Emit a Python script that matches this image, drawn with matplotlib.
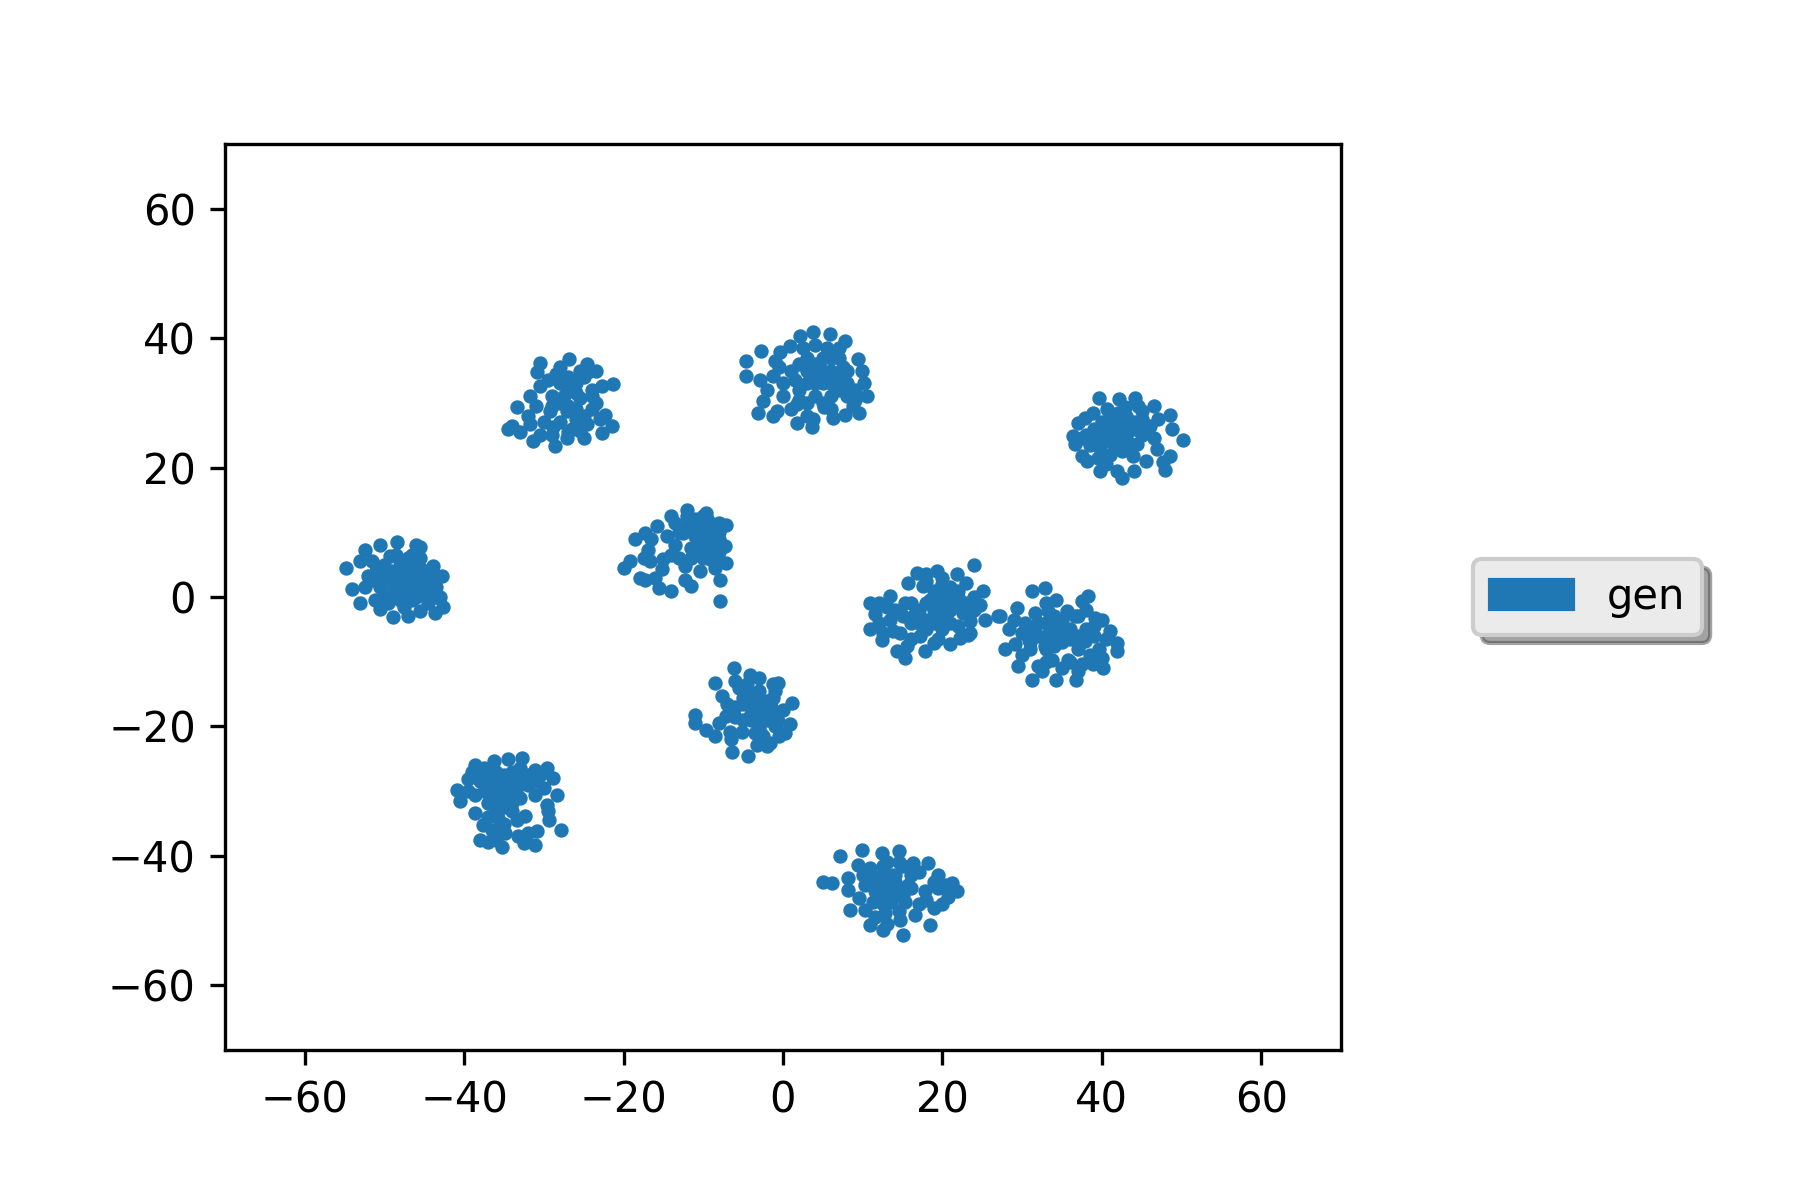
import matplotlib
matplotlib.use("Agg")
import matplotlib.pyplot as plt
import matplotlib.patches as mpatches
import numpy as np

# embedded points per cluster (x, y)
cluster_a = [(-54.8,4.5),(-53.1,5.5),(-52.4,7.2),(-50.6,8.0),(-48.4,8.5),(-46.0,8.1),(-45.6,7.8),
             (-54.1,1.2),(-53.1,-0.9),(-51.2,-0.4),(-50.6,-1.9),(-48.9,-3.1),(-47.0,-2.9),(-45.5,-2.2),
             (-43.7,-2.5),(-42.6,-1.5),(-43.2,-0.1),(-42.8,3.2),(-43.9,4.8),(-45.5,6.1),(-49.3,6.3),
             (-50,3),(-49,4),(-48,3),(-47,2),(-46,3),(-45,2),(-44,1),(-47,5),(-46,4.5),(-48,1),
             (-49,0.5),(-46,0),(-45,0.5),(-44,3),(-47,0.5),(-48.5,2),(-51,2.5),(-50,5),(-52,3.2),
             (-44.5,-1),(-47.5,-1.5),(-49.5,-1),(-46.5,6.5),(-48,5.5),(-45.5,4.5),(-43.5,1.5),
             (-50.5,1.5),(-51.5,5.5),(-49,2),(-48,4),(-47,3),(-46,2),(-45,3.5),(-44,2),(-47,6),
             (-48.5,6.5),(-50,0),(-46.5,-0.5),(-45,1),(-44,4.5),(-48,-0.5),(-49.5,3),(-51,4),
             (-52.5,1.5),(-46,5.5),(-43,0)]
cluster_b = [(-30.5,36.2),(-30.9,34.7),(-26.9,36.7),(-24.6,36.0),(-24.2,34.9),(-28.0,35.5),(-21.3,32.9),
             (-22.7,32.6),(-30.5,32.6),(-31.7,31.1),(-33.4,29.3),(-34.0,26.4),(-31.7,26.7),(-31.3,24.1),
             (-28.6,23.3),(-27.1,24.6),(-25.5,25.7),(-24.6,26.7),(-23.4,30.0),(-22.3,28.2),(-22.7,25.4),
             (-26.1,31.8),(-25.5,30.8),(-29.2,28.7),(-27.1,28.7),(-28.8,26.2),(-28,33),(-27,34),(-26,33),
             (-29,31),(-27.5,31),(-26,29),(-25,28),(-28,27),(-30,27),(-26.5,26),(-24,32),(-29.5,33.5),
             (-32,28),(-30.5,25),(-25,34),(-23.5,35),(-34.5,26),(-33,25.5),(-21.5,26.5),(-27,32),
             (-26,31.5),(-28,30),(-27,29.5),(-29,29.5),(-26,27.5),(-24,29),(-25.5,35),(-28.5,34.5),
             (-31,29.5),(-29,25),(-27,25.5),(-25,24.5),(-23,27.5),(-24,31)]
cluster_c = [(-4.6,36.5),(-2.7,38.0),(-4.6,34.2),(-2.9,33.6),(-2.5,30.3),(-3.1,28.5),(-0.8,28.7),
             (-1.2,28.0),(1.7,26.9),(3.6,26.2),(3.8,27.5),(6.3,27.7),(7.8,28.2),(8.8,29.5),(10.5,31.1),
             (10.1,33.1),(9.9,34.9),(9.4,36.7),(7.8,39.6),(5.9,40.6),(3.8,40.9),(2.1,40.3),(0.9,38.8),
             (-0.4,37.8),(-1.2,34.2),(1.7,29.8),(5.1,29.3),(2,36),(3,35),(4,34),(5,33),(6,35),(7,34),
             (8,33),(6,31),(4,31),(2,32),(0,33),(1,35),(3,37),(5,37),(7,37),(8,31),(9,32),(4,33),(6,33),
             (3,30),(0,31),(1.5,33.5),(5.5,38.5),(7.5,35.5),(-0.5,35.5),(2.5,38.5),(3,33),(5,35),(4,36),
             (6,37),(7,32),(8,35),(9,30.5),(5,30),(2,30.5),(1,29),(6,29),(-2,32),(-1,36.5),(4,39),
             (7,38.5),(9.5,28.5),(3,28)]
cluster_d = [(39.6,30.8),(42.1,30.6),(44.2,30.8),(46.5,29.5),(48.6,28.2),(48.8,25.9),(50.2,24.2),
             (48.6,21.8),(47.7,20.8),(47.9,19.7),(46.9,22.8),(46.5,24.6),(43.9,21.8),(42.5,18.4),
             (41.9,19.5),(39.8,19.5),(38.1,21.0),(37.5,21.8),(36.6,23.6),(36.4,24.9),(37.0,26.9),
             (37.9,27.7),(38.9,28.5),(40.6,29.0),(42.9,29.3),(45.0,28.7),(45.2,26.2),(41.0,25.1),
             (43.1,24.1),(39.8,23.1),(44.4,23.6),(40,27),(41,28),(42,27),(43,26),(44,27),(39,26),
             (38,25),(40,24),(42,25),(41,22),(43,28),(45,25),(39.5,21.5),(44.5,29.5),(38.5,23.5),
             (42.5,22.5),(40,26),(41,26.5),(42,28.5),(43,25),(44,26),(45,27.5),(41.5,23.5),(43,23),
             (46,26.5),(47,27.5),(39,24.5),(37.5,24.5),(40.5,20.5),(45.5,21),(44,19.5)]
cluster_e = [(-18.6,8.9),(-17.3,9.9),(-15.8,11.0),(-14.0,12.5),(-12.1,13.5),(-9.6,13.0),(-7.1,11.2),
             (-7.3,7.9),(-7.1,5.3),(-7.9,2.7),(-7.9,-0.6),(-10.4,4.0),(-11.5,1.7),(-12.3,2.7),
             (-14.0,0.9),(-15.6,1.4),(-17.3,2.7),(-20.0,4.5),(-19.2,5.5),(-16.9,7.3),(-16.7,5.5),
             (-15.2,4.3),(-15.0,5.8),(-13.1,6.1),(-12.3,4.8),(-10.8,7.6),(-12.5,9.9),(-10.4,9.9),
             (-9.2,11.5),(-8.7,7.9),(-9.2,5.8),(-11,11),(-10,10),(-9,9),(-8,9),(-9,7),(-10,8),(-11,12),
             (-8,10),(-9.5,12),(-12,11),(-13,10),(-8.5,4.5),(-10,6),(-11.5,7.5),(-13.5,8),(-14.5,9.5),
             (-18,3),(-16,3),(-10.5,11),(-9,10.5),(-8,11.5),(-12,12.5),(-11,9.5),(-9.5,8),(-8,7),
             (-8,5.5),(-10,12.5),(-13.5,11.5),(-11.5,6),(-14,6.5),(-17.5,6),(-16.5,9)]
cluster_f = [(10.9,-0.9),(13.4,0.1),(15.3,-0.9),(15.7,2.2),(16.8,3.7),(18.0,3.5),(19.3,4.0),(21.8,3.5),
             (23.0,2.2),(23.9,5.0),(25.1,0.9),(24.7,-1.2),(25.3,-3.5),(27.0,-3.0),(23.5,-3.7),(23.2,-5.8),
             (22.2,-6.3),(21.0,-7.3),(18.9,-7.1),(17.8,-8.4),(15.3,-9.4),(14.3,-8.4),(14.7,-5.5),
             (12.4,-6.6),(10.9,-5.0),(11.5,-2.7),(13.4,-3.5),(13.8,-5.3),(17.2,-6.1),(18.0,-3.5),
             (18.4,-0.4),(19.9,-3.0),(20.5,0.6),(21.8,-0.9),(22.6,-2.4),(16.6,-2.7),(17.6,1.7),(19,0),
             (20,-1),(21,-2),(22,0),(20,2),(19,-2),(17,-4),(16,-1),(18,-5),(20,-5),(14,-2),(12,-4),
             (23,-1),(21,1.5),(24,-2),(16,-6.5),(19.5,-6.5),(19,1),(20,0),(21,-0.5),(22,1),(18,-1),
             (17,-2),(19,-4),(21,-4),(22,-4.5),(16,-4),(15,-3),(13,-1.5),(12,-1),(20,3),(18,2.5),(24,0),
             (15.5,-7.5),(12.5,-5.5),(23.5,-5.5)]
cluster_g = [(27.2,-3.0),(29.3,-1.7),(31.2,0.9),(32.9,1.4),(34.3,-0.4),(37.5,-0.6),(38.3,0.1),
             (39.1,-3.2),(40.0,-3.5),(41.0,-5.3),(41.9,-7.1),(41.9,-8.4),(40.2,-11.0),(38.9,-10.4),
             (37.5,-10.4),(36.8,-12.8),(34.3,-12.8),(31.2,-12.8),(29.5,-10.7),(27.9,-8.1),(28.3,-5.0),
             (30.4,-4.0),(31.6,-2.4),(33.3,-2.2),(35.6,-2.2),(36.6,-3.0),(34.5,-6.1),(32.9,-7.6),
             (35.8,-9.7),(32.0,-10.7),(33.7,-9.7),(37.9,-6.8),(39.6,-8.1),(30.8,-6.6),(29.1,-7.3),
             (31,-5),(32,-6),(33,-4),(34,-5),(35,-7),(36,-5),(37,-8),(38,-5),(33,-8),(31,-8),(36,-10),
             (39,-6),(30,-9),(34,-3),(32.5,-11.5),(38.5,-9),(40.5,-6.5),(32,-4),(33,-6),(35,-5),
             (36,-6.5),(37,-6),(34,-7.5),(35,-3.5),(37,-3),(38,-2),(39,-4.5),(31,-7),(30,-5.5),(33,-10),
             (35,-11),(37,-11.5),(40,-9.5),(29,-3.5),(33,-1)]
cluster_h = [(-6.2,-11.0),(-4.1,-12.0),(-8.5,-13.3),(-6.0,-13.0),(-7.7,-15.3),(-1.2,-13.5),(-0.6,-13.3),
             (1.1,-16.4),(0.9,-19.7),(0.3,-21.0),(-1.6,-22.6),(-3.3,-22.8),(-4.4,-24.6),(-6.4,-23.9),
             (-6.6,-20.8),(-8.5,-21.5),(-9.6,-20.5),(-11.0,-18.2),(-11.0,-19.5),(-7.1,-18.4),(-5.2,-20.8),
             (-2.9,-20.8),(-2.0,-18.2),(-3.3,-16.1),(-5.0,-15.6),(-1.2,-15.6),(-4.1,-18.4),(-0.6,-19.2),
             (-4,-17),(-3,-18),(-2,-17),(-1,-18),(-3,-20),(-5,-19),(-2,-16),(-4,-15),(-6,-17),(-1,-20),
             (-3,-14.5),(-5.5,-14),(-2.5,-21.5),(0,-17.5),(-7,-16.5),(-3,-16.5),(-4,-19),(-2,-19),
             (-3.5,-21),(-1.5,-17),(-5,-16.5),(-6,-18.5),(-4.5,-13.5),(-3,-12.5),(-1,-14.5),
             (-0.5,-21.5),(-2,-23),(-8,-19.5),(-6.5,-22)]
cluster_i = [(-38.6,-25.9),(-36.3,-25.4),(-34.5,-25.1),(-32.8,-24.9),(-31.1,-26.7),(-29.6,-26.4),
             (-28.8,-28.0),(-28.4,-30.6),(-29.6,-32.1),(-29.4,-34.4),(-27.8,-36.0),(-30.9,-36.2),
             (-31.1,-38.3),(-33.2,-37.0),(-33.4,-34.4),(-32.4,-33.9),(-35.3,-38.6),(-37.0,-37.8),
             (-38.0,-37.5),(-37.6,-35.2),(-38.6,-33.4),(-40.5,-31.6),(-40.9,-29.8),(-39.5,-28.2),
             (-37.4,-27.7),(-35.3,-28.5),(-33.2,-29.0),(-31.1,-30.6),(-35.3,-31.1),(-37.0,-31.8),
             (-34.0,-31.8),(-35.7,-34.2),(-34.9,-36.5),(-38.6,-30.6),(-36,-27),(-35,-29),(-34,-27),
             (-33,-28),(-36,-30),(-37,-29),(-34,-30),(-32,-29),(-36,-33),(-35,-32.5),(-33,-31),
             (-31,-28.5),(-37.5,-26.5),(-39,-27),(-36.5,-36),(-32,-36.5),(-30,-29.5),(-35,-27.5),
             (-34,-28.5),(-36,-28.5),(-33,-26.5),(-35.5,-30.5),(-37.5,-30),(-33.5,-30),(-36.5,-31.5),
             (-38,-28.5),(-39.5,-30),(-35,-35),(-34,-33),(-37,-34),(-32,-27.5),(-30.5,-27.5),
             (-29.5,-33),(-32.5,-38),(-36,-37.5)]
cluster_j = [(9.9,-39.1),(9.4,-41.4),(8.2,-43.4),(8.2,-45.3),(8.4,-48.3),(10.3,-48.3),(10.9,-50.7),
             (12.6,-51.4),(15.1,-52.2),(14.7,-49.9),(16.6,-49.1),(18.4,-50.7),(18.9,-48.1),(18.0,-46.8),
             (17.8,-45.5),(20.7,-46.3),(21.8,-45.5),(21.2,-44.2),(19.5,-42.9),(18.2,-41.1),(16.3,-41.1),
             (14.5,-39.3),(12.4,-39.6),(10.9,-41.9),(10.3,-44.5),(12.0,-46.0),(13.6,-47.1),(14.1,-42.9),
             (12.4,-42.9),(15.7,-44.5),(15.3,-47.1),(12.8,-48.9),(11.3,-47.1),(5.0,-44.0),(6.2,-44.2),
             (7.1,-40.0),(12,-44),(13,-45),(14,-44),(13,-41),(14,-46),(12.5,-47.5),(11,-43),(15,-41.5),
             (16,-43),(13.5,-43),(11.5,-45.5),(19.5,-45),(20,-47.5),(12,-45),(13,-43.5),(14,-45),
             (13,-46.5),(12.5,-41.5),(14.5,-41),(11.5,-44),(15,-46),(16,-45),(14.5,-48.5),(11.5,-49.5),
             (13,-50.5),(9.5,-46.5),(17,-47.5),(19,-44),(20.5,-44.5),(17,-42.5),(10,-43)]

clusters = [cluster_a, cluster_b, cluster_c, cluster_d, cluster_e,
            cluster_f, cluster_g, cluster_h, cluster_i, cluster_j]
pts = np.array([p for c in clusters for p in c])

fig = plt.figure(figsize=(6, 4), dpi=300)
ax = fig.add_axes([0.125, 0.125, 0.62, 0.755])
ax.scatter(pts[:, 0], pts[:, 1], s=6, color='#1f77b4')
ax.set_xlim(-70, 70)
ax.set_ylim(-70, 70)
ax.set_xticks(range(-60, 61, 20))
ax.set_yticks(range(-60, 61, 20))

handle = mpatches.Patch(color='#1f77b4', label='gen')
leg = ax.legend(handles=[handle], loc='center left', bbox_to_anchor=(1.1, 0.5),
                fancybox=True, shadow=True, framealpha=1)
leg.get_frame().set_facecolor('#ebebeb')

fig.savefig('out.png', dpi=300)
